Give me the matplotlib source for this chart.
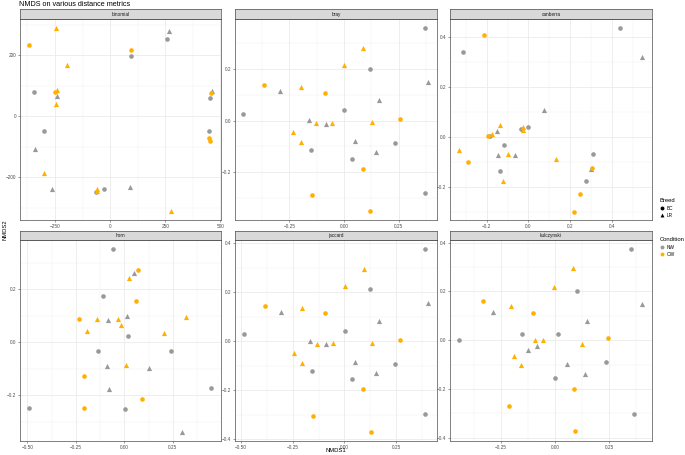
import matplotlib
matplotlib.use("Agg")
import matplotlib.pyplot as plt
from matplotlib.lines import Line2D
from matplotlib.ticker import FixedLocator, AutoMinorLocator

plt.rcParams['font.family'] = ['Liberation Sans', 'DejaVu Sans']

# ---------- data ----------
panel_names = ['binomial', 'bray', 'canberra', 'horn', 'jaccard', 'kulczynski']

binomial_x = [-368, -245, 265, 256, 95, 95, -197, -347, -252, -239, -239, -245, 457, 464,
              455, -300, 450, 448, 452, -342, -300, -264, -61, -58, -64, -26, 89, 276]
binomial_y = [234, 290, 279, 254, 218, 196, 168, 80, 80, 86, 66, 40, 77, 83,
              60, -48, -47, -71, -81, -107, -185, -237, -237, -243, -247, -239, -230, -310]
binomial_cond = ['OW', 'OW', 'NW', 'NW', 'OW', 'NW', 'OW', 'NW', 'OW', 'OW', 'NW', 'OW', 'OW', 'NW',
                 'NW', 'NW', 'NW', 'OW', 'OW', 'NW', 'OW', 'NW', 'OW', 'OW', 'NW', 'NW', 'NW', 'OW']
binomial_breed = ['BC', 'LR', 'LR', 'BC', 'BC', 'BC', 'LR', 'BC', 'BC', 'LR', 'LR', 'LR', 'BC', 'LR',
                  'BC', 'BC', 'BC', 'BC', 'BC', 'LR', 'LR', 'LR', 'LR', 'LR', 'BC', 'BC', 'LR', 'LR']

bray_x = [0.370, 0.089, 0.002, 0.118, -0.367, -0.293, -0.195, -0.087, 0.382, 0.158, 0.002, -0.463,
          -0.161, -0.126, -0.081, -0.054, 0.129, 0.255, -0.232, -0.195, 0.049, -0.149, 0.233, 0.146,
          0.035, 0.086, 0.370, -0.146, 0.120]
bray_y = [0.360, 0.281, 0.216, 0.202, 0.139, 0.115, 0.130, 0.109, 0.149, 0.080, 0.040, 0.026,
          0.003, -0.009, -0.012, -0.009, -0.005, 0.005, -0.044, -0.083, -0.079, -0.115, -0.087, -0.123,
          -0.148, -0.187, -0.282, -0.290, -0.351]
bray_cond = ['NW', 'OW', 'OW', 'NW', 'OW', 'NW', 'OW', 'OW', 'NW', 'NW', 'NW', 'NW',
             'NW', 'OW', 'NW', 'OW', 'OW', 'OW', 'OW', 'OW', 'NW', 'NW', 'NW', 'NW',
             'NW', 'OW', 'NW', 'OW', 'OW']
bray_breed = ['BC', 'LR', 'LR', 'BC', 'BC', 'LR', 'LR', 'BC', 'LR', 'LR', 'BC', 'BC',
              'LR', 'LR', 'LR', 'LR', 'LR', 'BC', 'LR', 'LR', 'LR', 'BC', 'BC', 'LR',
              'BC', 'BC', 'BC', 'BC', 'BC']

canberra_x = [0.440, 0.546, -0.213, -0.314, 0.075, -0.134, -0.038, 0.000, -0.026, -0.024, -0.152,
              -0.192, -0.182, -0.174, -0.118, -0.333, -0.291, -0.147, -0.098, -0.066, 0.134, 0.309,
              -0.138, -0.120, 0.304, 0.302, 0.275, 0.246, 0.216]
canberra_y = [0.435, 0.319, 0.407, 0.341, 0.107, 0.049, 0.033, 0.040, 0.041, 0.027, 0.023,
              0.003, 0.003, 0.011, -0.032, -0.053, -0.101, -0.072, -0.069, -0.072, -0.087, -0.067,
              -0.136, -0.177, -0.123, -0.127, -0.177, -0.229, -0.299]
canberra_cond = ['NW', 'NW', 'OW', 'NW', 'NW', 'OW', 'NW', 'NW', 'OW', 'OW', 'NW',
                 'OW', 'NW', 'OW', 'NW', 'OW', 'OW', 'NW', 'OW', 'NW', 'OW', 'NW',
                 'NW', 'OW', 'OW', 'NW', 'NW', 'OW', 'OW']
canberra_breed = ['BC', 'LR', 'BC', 'BC', 'LR', 'LR', 'BC', 'BC', 'LR', 'LR', 'LR',
                  'BC', 'BC', 'LR', 'BC', 'LR', 'BC', 'LR', 'LR', 'LR', 'LR', 'BC',
                  'BC', 'LR', 'BC', 'LR', 'BC', 'BC', 'BC']

horn_x = [-0.060, 0.070, 0.052, 0.024, -0.112, 0.060, -0.232, -0.141, -0.082, -0.034, 0.015,
          -0.017, -0.191, 0.320, 0.206, 0.019, -0.137, 0.239, -0.088, 0.009, 0.127, -0.206,
          -0.079, 0.448, 0.091, -0.206, -0.491, 0.005, 0.296]
horn_y = [0.353, 0.272, 0.262, 0.243, 0.174, 0.155, 0.089, 0.087, 0.084, 0.089, 0.099,
          0.064, 0.043, 0.097, 0.034, 0.023, -0.033, -0.033, -0.089, -0.086, -0.096, -0.125,
          -0.177, -0.172, -0.215, -0.247, -0.247, -0.252, -0.337]
horn_cond = ['NW', 'OW', 'NW', 'OW', 'NW', 'OW', 'OW', 'OW', 'NW', 'OW', 'NW',
             'OW', 'OW', 'OW', 'OW', 'NW', 'NW', 'NW', 'NW', 'OW', 'NW', 'OW',
             'NW', 'NW', 'OW', 'OW', 'NW', 'NW', 'NW']
horn_breed = ['BC', 'BC', 'LR', 'LR', 'BC', 'BC', 'BC', 'LR', 'LR', 'LR', 'LR',
              'LR', 'LR', 'LR', 'LR', 'BC', 'BC', 'BC', 'LR', 'LR', 'LR', 'BC',
              'LR', 'BC', 'BC', 'BC', 'BC', 'BC', 'LR']

jaccard_x = [0.389, 0.094, 0.002, 0.124, -0.385, -0.308, -0.205, -0.092, 0.402, 0.166, 0.002, -0.487,
             -0.169, -0.134, -0.087, -0.056, 0.135, 0.266, -0.244, -0.205, 0.050, -0.156, 0.245, 0.153,
             0.037, 0.090, 0.389, -0.153, 0.126]
jaccard_y = [0.378, 0.297, 0.227, 0.212, 0.146, 0.120, 0.137, 0.114, 0.156, 0.084, 0.041, 0.029,
             0.003, -0.010, -0.012, -0.008, -0.005, 0.004, -0.046, -0.087, -0.083, -0.121, -0.091, -0.129,
             -0.155, -0.196, -0.297, -0.305, -0.370]
jaccard_cond = bray_cond
jaccard_breed = bray_breed

kulczynski_x = [0.352, 0.082, -0.006, 0.102, -0.333, -0.285, -0.204, -0.103, 0.403, 0.147, 0.012,
                -0.444, -0.153, -0.093, -0.054, -0.127, -0.083, 0.127, 0.247, -0.191, -0.157, 0.056,
                0.235, 0.139, 0.000, 0.088, 0.366, -0.211, 0.091]
kulczynski_y = [0.376, 0.298, 0.217, 0.202, 0.161, 0.117, 0.142, 0.113, 0.148, 0.077, 0.026,
                0.001, 0.026, 0.000, 0.000, -0.038, -0.022, -0.015, 0.008, -0.064, -0.101, -0.097,
                -0.090, -0.137, -0.153, -0.201, -0.301, -0.269, -0.374]
kulczynski_cond = ['NW', 'OW', 'OW', 'NW', 'OW', 'NW', 'OW', 'OW', 'NW', 'NW', 'NW',
                   'NW', 'NW', 'OW', 'OW', 'NW', 'NW', 'OW', 'OW', 'OW', 'OW', 'NW',
                   'NW', 'NW', 'NW', 'OW', 'NW', 'OW', 'OW']
kulczynski_breed = ['BC', 'LR', 'LR', 'BC', 'BC', 'LR', 'LR', 'BC', 'LR', 'LR', 'BC',
                    'BC', 'BC', 'LR', 'LR', 'LR', 'LR', 'LR', 'BC', 'LR', 'LR', 'LR',
                    'BC', 'LR', 'BC', 'BC', 'BC', 'BC', 'BC']

panel_data = {
    'binomial': (binomial_x, binomial_y, binomial_cond, binomial_breed),
    'bray': (bray_x, bray_y, bray_cond, bray_breed),
    'canberra': (canberra_x, canberra_y, canberra_cond, canberra_breed),
    'horn': (horn_x, horn_y, horn_cond, horn_breed),
    'jaccard': (jaccard_x, jaccard_y, jaccard_cond, jaccard_breed),
    'kulczynski': (kulczynski_x, kulczynski_y, kulczynski_cond, kulczynski_breed),
}

# axis limits and breaks (free scales per facet)
panel_xlim = {'binomial': (-409, 503), 'bray': (-0.498, 0.425), 'canberra': (-0.376, 0.592),
              'horn': (-0.538, 0.498), 'jaccard': (-0.529, 0.447), 'kulczynski': (-0.486, 0.449)}
panel_ylim = {'binomial': (-339, 318), 'bray': (-0.386, 0.395), 'canberra': (-0.333, 0.471),
              'horn': (-0.372, 0.386), 'jaccard': (-0.407, 0.414), 'kulczynski': (-0.413, 0.411)}
panel_xticks = {'binomial': [-250, 0, 250, 500], 'bray': [-0.5, -0.25, 0, 0.25],
                'canberra': [-0.2, 0, 0.2, 0.4], 'horn': [-0.5, -0.25, 0, 0.25, 0.5],
                'jaccard': [-0.5, -0.25, 0, 0.25], 'kulczynski': [-0.25, 0, 0.25]}
panel_xlabels = {'binomial': ['-250', '0', '250', '500'], 'bray': ['-0.50', '-0.25', '0.00', '0.25'],
                 'canberra': ['-0.2', '0.0', '0.2', '0.4'],
                 'horn': ['-0.50', '-0.25', '0.00', '0.25', '0.50'],
                 'jaccard': ['-0.50', '-0.25', '0.00', '0.25'], 'kulczynski': ['-0.25', '0.00', '0.25']}
panel_yticks = {'binomial': [-200, 0, 200], 'bray': [-0.2, 0, 0.2], 'canberra': [-0.2, 0, 0.2, 0.4],
                'horn': [-0.2, 0, 0.2], 'jaccard': [-0.4, -0.2, 0, 0.2, 0.4],
                'kulczynski': [-0.4, -0.2, 0, 0.2, 0.4]}
panel_ylabels = {'binomial': ['-200', '0', '200'], 'bray': ['-0.2', '0.0', '0.2'],
                 'canberra': ['-0.2', '0.0', '0.2', '0.4'], 'horn': ['-0.2', '0.0', '0.2'],
                 'jaccard': ['-0.4', '-0.2', '0.0', '0.2', '0.4'],
                 'kulczynski': ['-0.4', '-0.2', '0.0', '0.2', '0.4']}

cond_colors = {'NW': '#999999', 'OW': '#FFB000'}
breed_markers = {'BC': 'o', 'LR': '^'}
breed_sizes = {'BC': 11, 'LR': 14}

# ---------- layout (pixels) ----------
W, H = 685, 455
fig = plt.figure(figsize=(W / 100, H / 100), dpi=100)

col_px = [(20, 221), (235, 437), (450, 652)]
row_px = [(19, 220), (240, 441)]
strip_h = 9.5


def frac_box(x0, x1, ytop, ybot):
    return [x0 / W, 1 - ybot / H, (x1 - x0) / W, (ybot - ytop) / H]


def minus(labels):
    # tiny hyphens vanish at this size, use the real minus sign
    return [s.replace('-', '\u2212') for s in labels]


frame_col = '#4d4d4d'
for i, name in enumerate(panel_names):
    r, c = divmod(i, 3)
    x0, x1 = col_px[c]
    ytop, ybot = row_px[r]
    ax = fig.add_axes(frac_box(x0, x1, ytop, ybot))
    xs, ys, cond, breed = panel_data[name]
    for cnd in ['NW', 'OW']:
        for brd in ['BC', 'LR']:
            px = [x for x, a, b in zip(xs, cond, breed) if a == cnd and b == brd]
            py = [y for y, a, b in zip(ys, cond, breed) if a == cnd and b == brd]
            ax.scatter(px, py, c=cond_colors[cnd], marker=breed_markers[brd],
                       s=breed_sizes[brd], linewidths=0, zorder=3)
    ax.set_xlim(panel_xlim[name])
    ax.set_ylim(panel_ylim[name])
    ax.xaxis.set_major_locator(FixedLocator(panel_xticks[name]))
    ax.yaxis.set_major_locator(FixedLocator(panel_yticks[name]))
    ax.set_xticklabels(minus(panel_xlabels[name]))
    ax.set_yticklabels(minus(panel_ylabels[name]))
    ax.xaxis.set_minor_locator(AutoMinorLocator(2))
    ax.yaxis.set_minor_locator(AutoMinorLocator(2))
    ax.grid(which='major', color='#EBEBEB', linewidth=0.6, zorder=0)
    ax.grid(which='minor', color='#F2F2F2', linewidth=0.35, zorder=0)
    ax.set_axisbelow(True)
    ax.tick_params(which='major', labelsize=3.4, length=1.6, width=0.4, pad=1.2,
                   color=frame_col, labelcolor='#4d4d4d')
    ax.tick_params(which='minor', length=0)
    for sp in ax.spines.values():
        sp.set_color(frame_col)
        sp.set_linewidth(0.5)

    # facet strip
    sax = fig.add_axes(frac_box(x0, x1, ytop - strip_h, ytop))
    sax.set_facecolor('#D9D9D9')
    sax.set_xticks([])
    sax.set_yticks([])
    for sp in sax.spines.values():
        sp.set_color(frame_col)
        sp.set_linewidth(0.5)
    sax.text(0.5, 0.5, name, ha='center', va='center', fontsize=3.4, color='#1a1a1a',
             transform=sax.transAxes)

fig.text(19 / W, 1 - 4.5 / H, 'NMDS on various distance metrics', ha='left', va='center',
         fontsize=5.2, color='black')
fig.text(336 / W, 1 - 451 / H, 'NMDS1', ha='center', va='center', fontsize=4.2)
fig.text(5 / W, 1 - 230 / H, 'NMDS2', ha='center', va='center', rotation=90, fontsize=4.2)

# legends
breed_handles = [Line2D([], [], marker=breed_markers[b], color='black', linestyle='none',
                        markersize=2.8, markeredgewidth=0, label=b) for b in ['BC', 'LR']]
cond_handles = [Line2D([], [], marker='o', color=cond_colors[cn], linestyle='none',
                       markersize=2.8, markeredgewidth=0, label=cn) for cn in ['NW', 'OW']]
leg_kw = dict(loc='upper left', frameon=False, fontsize=3.4, title_fontsize=4.2,
              handletextpad=0.6, labelspacing=0.5, borderpad=0, handlelength=1.0,
              alignment='left')
fig.legend(handles=breed_handles, title='Breed', bbox_to_anchor=(657 / W, 1 - 196 / H), **leg_kw)
fig.legend(handles=cond_handles, title='Condition', bbox_to_anchor=(657 / W, 1 - 235 / H), **leg_kw)

fig.savefig('out.png', dpi=100)
